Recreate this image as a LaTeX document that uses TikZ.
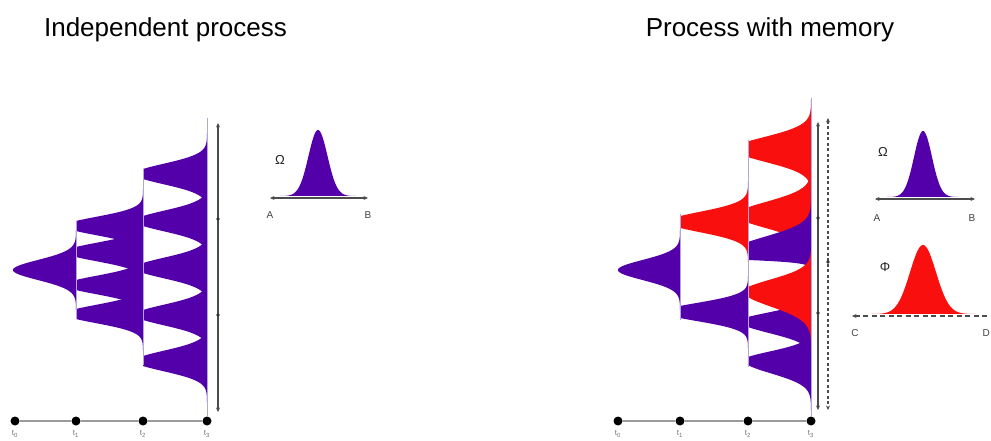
\documentclass[tikz,border=0pt]{standalone}
\usepackage{fontspec}
\setmainfont{Liberation Sans}
\usepackage{tikz}
\usetikzlibrary{arrows.meta, calc}
\definecolor{indig}{RGB}{84,0,170}
\definecolor{memred}{RGB}{250,15,15}
\definecolor{stem}{RGB}{178,165,225}
\definecolor{axgray}{RGB}{155,155,155}
\tikzset{
  heading/.style ={font=\fontsize{26}{30}\selectfont, anchor=base, inner sep=0pt},
  tdot/.style    ={circle, fill=black, inner sep=0pt, minimum size=9pt},
  tlbl/.style    ={font=\fontsize{8}{9}\selectfont, text=black!55, inner sep=0pt},
  lbl/.style     ={font=\fontsize{10}{12}\selectfont, text=black!75, inner sep=0pt},
  greek/.style   ={font=\fontsize{13}{15}\selectfont, text=black!85, inner sep=0pt},
  timeline/.style={draw=axgray, line width=1.3pt},
  stemline/.style={draw=stem, line width=0.8pt},
  spanline/.style={{Stealth[length=4.5pt,width=4pt]}-{Stealth[length=4.5pt,width=4pt]},
                   line width=1.3pt, black!70},
  dspan/.style   ={spanline, line width=1.5pt, dash pattern=on 3pt off 2.5pt},
  tickdot/.style ={fill=black!80},
}
% base x, centre y, height/sigma above, height/sigma below, colour
\newcommand{\lobe}[7]{%
  \fill[#7] plot[domain=#2-4*#4:#2+4*#6, samples=141]
    ({#1-ifthenelse(\x<#2, #3*exp(-(\x-#2)*(\x-#2)/(2*#4*#4)), #5*exp(-(\x-#2)*(\x-#2)/(2*#6*#6)))}, \x) -- cycle;}
\newcommand{\bump}[5]{%
  \fill[#5] plot[domain=#1-4*#4:#1+4*#4, samples=101]
    (\x, {#2-#3*exp(-(\x-#1)*(\x-#1)/(2*#4*#4))}) -- cycle;}

\begin{document}
\begin{tikzpicture}[x=1pt, y=-1pt]
  \useasboundingbox (0,0) rectangle (991,441);

  \node[heading] (indep)  at (165.5,37) {Independent process};
  \node[heading] (memory) at (770,37)   {Process with memory};

  \lobe{76}{270}{63}{10}{63}{10}{indig}
  \begin{scope}
    \clip (76,100) rectangle (143,430);
    \foreach \cy in {226,252,285,314} {\lobe{143}{\cy}{78}{9.1}{78}{9.1}{indig}}
  \end{scope}
  \begin{scope}
    \clip (143,100) rectangle (208,430);
    \foreach \cy in {174,221,268,315,361} {\lobe{207}{\cy}{72}{10.2}{72}{10.2}{indig}}
  \end{scope}
  \draw[stemline] (76,221) -- (76,319);
  \draw[stemline] (143,169) -- (143,365);
  \draw[stemline] (207,118) -- (207,416);

  \lobe{680}{270}{62}{10}{62}{10}{indig}
  \begin{scope}
    \clip (680,100) rectangle (748,430);
    \lobe{748}{222}{81}{10}{81}{10}{memred}
    \lobe{748}{312}{85}{9}{85}{9}{indig}
  \end{scope}
  \begin{scope}
    \clip (748,80) rectangle (812,430);
    \lobe{811}{150}{80}{12.5}{75}{12}{memred}
    \lobe{811}{215}{75}{13}{75}{13}{memred}
    \lobe{811}{250}{75}{13.5}{465}{5}{indig}
    \lobe{811}{322}{73}{9.2}{70}{10.9}{indig}
    \lobe{811}{361}{69}{9.4}{66.4}{12.3}{indig}
    \lobe{811}{292}{68.5}{12.2}{66.8}{14.5}{memred}
  \end{scope}
  \draw[stemline] (680,214) -- (680,320);
  \draw[stemline] (748,140) -- (748,367);
  \draw[stemline] (811,98) -- (811,416);

  \foreach \i/\x in {0/15,1/76,2/143,3/207} {
    \node[tdot] (L\i) at (\x,421) {};
    \node[tlbl] (lt\i) at (\x,434) {t\textsubscript{\i}};
  }
  \draw[timeline] (L0) -- (L1) -- (L2) -- (L3);
  \foreach \i/\x in {0/618,1/680,2/748,3/811} {
    \node[tdot] (R\i) at (\x,421) {};
    \node[tlbl] (rt\i) at (\x,434) {t\textsubscript{\i}};
  }
  \draw[timeline] (R0) -- (R1) -- (R2) -- (R3);

  \coordinate (ltop) at (218,123);
  \coordinate (lbot) at (218,412);
  \draw[spanline] (ltop) -- (lbot);
  \foreach \ty in {219,315} {\fill[tickdot] (218,\ty) circle (1.8);}

  \coordinate (rtop) at (818,122);
  \coordinate (rbot) at (818,410);
  \draw[spanline] (rtop) -- (rbot);
  \foreach \ty in {218,313} {\fill[tickdot] (818,\ty) circle (1.8);}
  \coordinate (dtop) at (828,118);
  \coordinate (dbot) at (828,410);
  \draw[dspan] (dtop) -- (dbot);
  \fill[tickdot] (828,262) circle (1.8);

  \bump{318}{196}{66}{9.5}{indig}
  \node[greek] (om1) at (280,160) {Ω};
  \coordinate (a1) at (270,198);
  \coordinate (b1) at (368,198);
  \draw[spanline] (a1) -- (b1);
  \node[lbl] (A1) at (270,215) {A};
  \node[lbl] (B1) at (368,215) {B};

  \bump{923}{197}{66}{9}{indig}
  \node[greek] (om2) at (883,152) {Ω};
  \coordinate (a2) at (875,199);
  \coordinate (b2) at (975,199);
  \draw[spanline] (a2) -- (b2);
  \node[lbl] (A2) at (877,218) {A};
  \node[lbl] (B2) at (972,218) {B};

  \bump{923}{314}{69}{13}{memred}
  \node[greek] (phi) at (885,267) {Φ};
  \coordinate (c2) at (852,316);
  \coordinate (d2) at (996,316);
  \draw[{Stealth[length=4.5pt,width=4pt]}-, line width=1.5pt, black!70, dash pattern=on 5pt off 3.5pt] (c2) -- (d2);
  \node[lbl] (C2) at (855,333) {C};
  \node[lbl, anchor=east] (D2) at (990,333) {D};
\end{tikzpicture}
\end{document}
